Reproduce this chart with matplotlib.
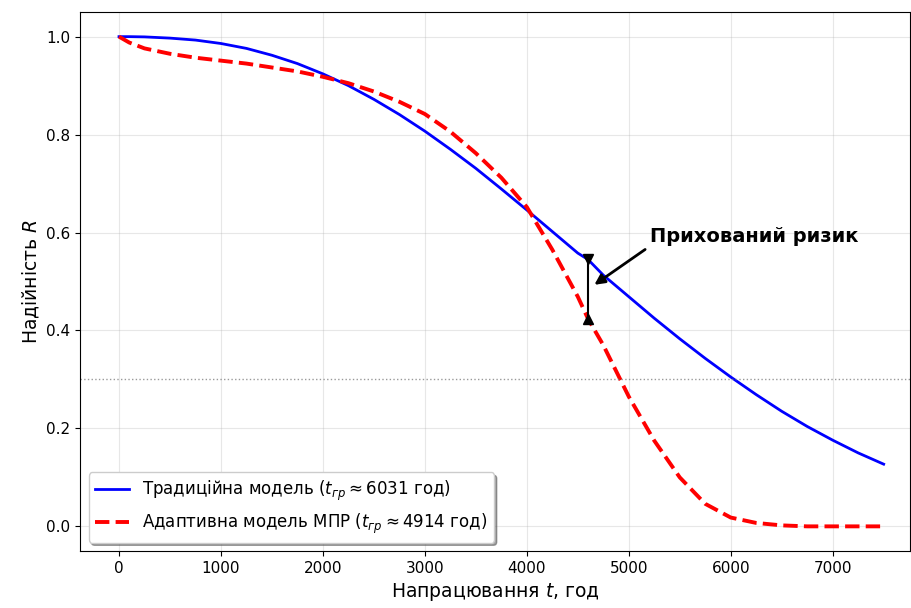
import matplotlib
matplotlib.use("Agg")
import matplotlib.pyplot as plt

# operating time, hours
t_hours = [0, 100, 250, 500, 750, 1000, 1250, 1500, 1750, 2000, 2250, 2500,
           2750, 3000, 3250, 3500, 3750, 4000, 4250, 4500, 4600, 4750, 5000,
           5250, 5500, 5750, 6000, 6250, 6500, 6750, 7000, 7250, 7500]

# traditional model
r_traditional = [1.0, 1.0, 0.9995, 0.997, 0.993, 0.986, 0.976, 0.962, 0.945,
                 0.924, 0.900, 0.872, 0.841, 0.807, 0.770, 0.731, 0.689,
                 0.646, 0.602, 0.558, 0.545, 0.513, 0.469, 0.425, 0.383,
                 0.343, 0.305, 0.269, 0.235, 0.204, 0.176, 0.150, 0.127]

# adaptive MPR model
r_adaptive = [1.0, 0.988, 0.976, 0.965, 0.957, 0.951, 0.945, 0.937, 0.929,
              0.918, 0.905, 0.888, 0.867, 0.842, 0.806, 0.762, 0.712, 0.652,
              0.565, 0.469, 0.424, 0.37, 0.265, 0.175, 0.10, 0.046, 0.018,
              0.007, 0.002, 0.0, 0.0, 0.0, 0.0]

t_trad_limit = 6031
t_adapt_limit = 4914
r_threshold = 0.3
risk_t = 4600

fig = plt.figure(figsize=(9.12, 6.08), dpi=100)
ax = fig.add_axes([0.088, 0.094, 0.91, 0.886])

ax.plot(t_hours, r_traditional, color='blue', lw=2,
        label=r'Традиційна модель ($t_{гр} \approx %d$ год)' % t_trad_limit)
ax.plot(t_hours, r_adaptive, color='red', lw=2.8, linestyle='--',
        label=r'Адаптивна модель МПР ($t_{гр} \approx %d$ год)' % t_adapt_limit)

ax.axhline(r_threshold, color='gray', linestyle=':', lw=1, alpha=0.8)

# hidden risk marker
i = t_hours.index(risk_t)
ax.plot([risk_t, risk_t], [r_adaptive[i], r_traditional[i]], color='black', lw=1.5)
ax.plot(risk_t, r_traditional[i], marker='v', color='black', ms=7)
ax.plot(risk_t, r_adaptive[i], marker='^', color='black', ms=7)
ax.annotate('Прихований ризик', xy=(risk_t + 40, 0.49), xytext=(5210, 0.592),
            fontsize=14, fontweight='bold', va='center', ha='left',
            arrowprops=dict(arrowstyle='-|>', color='black', lw=2,
                            mutation_scale=15, relpos=(0, 0), shrinkA=2))

ax.set_xlim(-380, 7760)
ax.set_ylim(-0.05, 1.05)
ax.set_xlabel('Напрацювання $t$, год', fontsize=13.5)
ax.set_ylabel('Надійність $R$', fontsize=13.5)
ax.tick_params(labelsize=11)
ax.grid(True, alpha=0.3)
ax.legend(loc='lower left', fontsize=12, shadow=True, fancybox=True)

fig.savefig('out.png', dpi=100)
